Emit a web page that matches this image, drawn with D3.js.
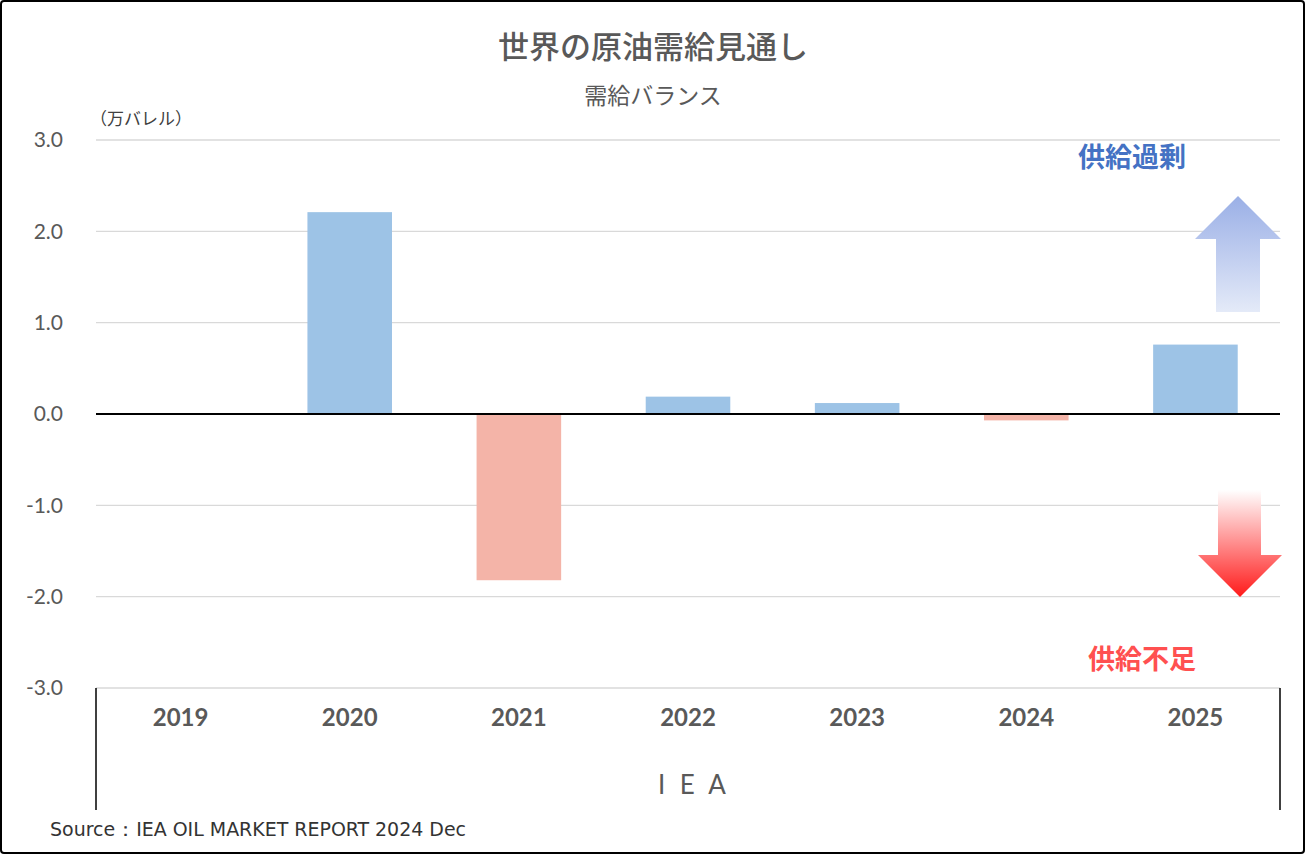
<!DOCTYPE html>
<html><head><meta charset="utf-8">
<script src="https://cdn.jsdelivr.net/npm/d3@7"></script>
<style>
html,body{margin:0;padding:0;background:#fff;}
svg{display:block;}
</style></head>
<body>
<script>
const categories = ["2019","2020","2021","2022","2023","2024","2025"];
const values = [0, 2.21, -1.82, 0.19, 0.12, -0.07, 0.76];
const yTicks = [3, 2, 1, 0, -1, -2, -3];
const title = "世界の原油需給見通し";
const subtitle = "需給バランス";
const unitLabel = "（万バレル）";
const groupLabel = "I E A";
const sourceText = "Source：IEA OIL MARKET REPORT  2024 Dec";

(function(){
const W = 1306, H = 855;
const svg = d3.select("body").append("svg").attr("width", W).attr("height", H);
const defs = svg.append("defs");

// outer border
svg.append("rect").attr("x",1).attr("y",1).attr("width",W-3).attr("height",H-3)
  .attr("fill","#fff").attr("stroke","#000").attr("stroke-width",2).attr("rx",3);

const pl = 96, pr = 1280, pt = 140, pb = 688;
const x = d3.scaleBand().domain(categories).range([pl, pr]).paddingInner(0.5).paddingOuter(0.25);
const y = d3.scaleLinear().domain([-3, 3]).range([pb, pt]);

const jp = "'Noto Sans CJK JP','Noto Sans',sans-serif";
const num = "Lato,'Noto Sans',sans-serif";
const grey = "#595959";

// gridlines
svg.append("g").selectAll("line").data(yTicks.filter(d=>d!==0)).join("line")
  .attr("x1", pl).attr("x2", pr)
  .attr("y1", d=>y(d)).attr("y2", d=>y(d))
  .attr("stroke","#d9d9d9").attr("stroke-width",1.3);

// y axis labels
const yAxis = d3.axisLeft(y).tickValues(yTicks).tickSize(0).tickPadding(0)
  .tickFormat(d => d3.format(".1f")(d).replace("−","-"));
const ga = svg.append("g").attr("transform",`translate(${pl-33},0)`).call(yAxis);
ga.select(".domain").remove();
ga.selectAll("text").attr("font-family",num).attr("font-size",21).attr("fill",grey);

// bars
svg.append("g").selectAll("rect").data(categories.map((c,i)=>({c, v: values[i]}))).join("rect")
  .attr("x", d=>x(d.c))
  .attr("width", x.bandwidth())
  .attr("y", d=>y(Math.max(0,d.v)))
  .attr("height", d=>Math.abs(y(d.v)-y(0)))
  .attr("fill", d=> d.v>=0 ? "#9DC3E6" : "#F4B4A8");

// zero line
svg.append("line").attr("x1",pl).attr("x2",pr).attr("y1",y(0)).attr("y2",y(0))
  .attr("stroke","#000").attr("stroke-width",2);

// category axis lines (multi-level)
svg.append("line").attr("x1",pl).attr("x2",pl).attr("y1",pb).attr("y2",810).attr("stroke","#000").attr("stroke-width",1.5);
svg.append("line").attr("x1",pr).attr("x2",pr).attr("y1",pb).attr("y2",810).attr("stroke","#000").attr("stroke-width",1.5);

// category labels
const xAxis = d3.axisBottom(x).tickSize(0).tickPadding(0);
const gx = svg.append("g").attr("transform",`translate(0,${pb+27})`).call(xAxis);
gx.select(".domain").remove();
gx.selectAll("text").attr("font-family",num).attr("font-weight","bold").attr("font-size",24).attr("fill",grey).attr("dy","0.45em");

svg.append("text").attr("x",658).attr("y",794).attr("text-anchor","start")
  .attr("font-family",num).attr("font-size",26).attr("fill",grey).attr("letter-spacing","0.15em").text(groupLabel);

// titles
svg.append("text").attr("x",653).attr("y",58).attr("text-anchor","middle")
  .attr("font-family",jp).attr("font-size",31).attr("font-weight","500").attr("fill",grey).text(title);
svg.append("text").attr("x",653).attr("y",104).attr("text-anchor","middle")
  .attr("font-family",jp).attr("font-size",23).attr("fill",grey).text(subtitle);
svg.append("text").attr("x",90).attr("y",125)
  .attr("font-family",jp).attr("font-size",17).attr("fill","#404040").text(unitLabel);

// source
svg.append("text").attr("x",50).attr("y",836)
  .attr("font-family","'Liberation Sans Narrow','DejaVu Sans Condensed',sans-serif").attr("font-size",19).attr("fill","#333")
  .attr("textLength",416).attr("lengthAdjust","spacingAndGlyphs")
  .text(sourceText);

// arrows
const gUp = defs.append("linearGradient").attr("id","gup").attr("x1",0).attr("y1",0).attr("x2",0).attr("y2",1);
gUp.append("stop").attr("offset","0%").attr("stop-color","#9AAFE6");
gUp.append("stop").attr("offset","100%").attr("stop-color","#E4EAF8");
const gDn = defs.append("linearGradient").attr("id","gdn").attr("x1",0).attr("y1",0).attr("x2",0).attr("y2",1);
gDn.append("stop").attr("offset","0%").attr("stop-color","#FFFFFF");
gDn.append("stop").attr("offset","100%").attr("stop-color","#FF1A1A");

svg.append("path").attr("fill","url(#gup)")
  .attr("d","M1238,196 L1281,239 L1260,239 L1260,312 L1216,312 L1216,239 L1195,239 Z");
svg.append("path").attr("fill","url(#gdn)")
  .attr("d","M1218,490 L1261,490 L1261,555 L1282,555 L1240,597 L1198,555 L1218,555 Z");

svg.append("text").attr("x",1132).attr("y",167).attr("text-anchor","middle")
  .attr("font-family",jp).attr("font-size",27).attr("font-weight","bold").attr("fill","#4472C4").text("供給過剰");
svg.append("text").attr("x",1142).attr("y",669).attr("text-anchor","middle")
  .attr("font-family",jp).attr("font-size",27).attr("font-weight","bold").attr("fill","#FF5050").text("供給不足");
})();
</script>
</body></html>
